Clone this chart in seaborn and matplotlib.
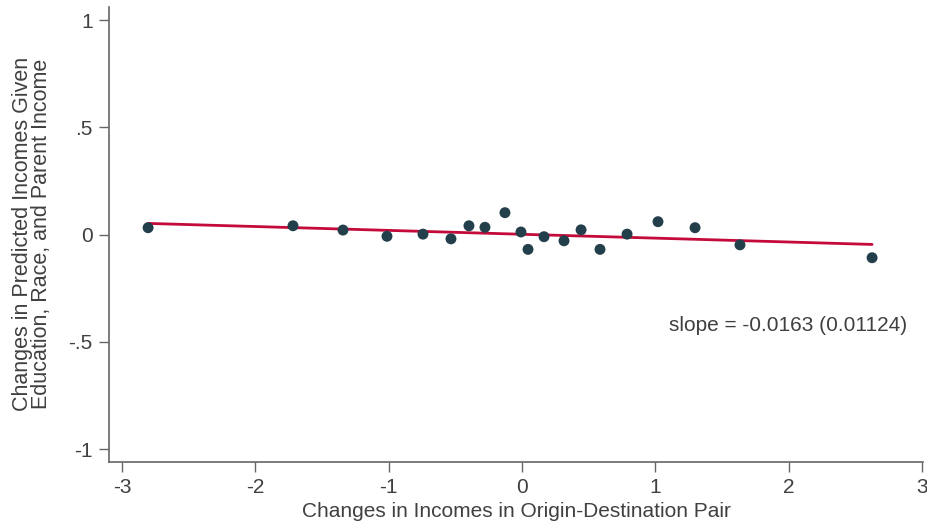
import matplotlib
matplotlib.use("Agg")
import matplotlib.pyplot as plt
import seaborn as sns
import pandas as pd

# Binned scatter points
income_change = [-2.805, -1.718, -1.343, -1.013, -0.743, -0.533, -0.398, -0.278,
                 -0.128, -0.008, 0.045, 0.165, 0.315, 0.443, 0.585, 0.788,
                 1.020, 1.298, 1.635, 2.626]
predicted_change = [0.032, 0.041, 0.021, -0.008, 0.002, -0.020, 0.041, 0.034,
                    0.102, 0.012, -0.069, -0.010, -0.029, 0.022, -0.069, 0.002,
                    0.060, 0.032, -0.048, -0.108]

# Fitted line endpoints
fit_x = [-2.805, 2.626]
fit_y = [0.052, -0.046]

slope_text = "slope = -0.0163 (0.01124)"
x_ticks = [-3, -2, -1, 0, 1, 2, 3]
x_tick_labels = ["-3", "-2", "-1", "0", "1", "2", "3"]
y_ticks = [-1, -0.5, 0, 0.5, 1]
y_tick_labels = ["-1", "-.5", "0", ".5", "1"]

sns.set_style("white")
plt.rcParams["font.family"] = ["Liberation Sans", "DejaVu Sans"]

fig = plt.figure(figsize=(9.27, 5.29), dpi=100)
ax = fig.add_axes([109.3 / 927, (529 - 461.7) / 529, (923 - 109.3) / 927, (461.7 - 7) / 529])

df = pd.DataFrame({"x": income_change, "y": predicted_change})
fit_df = pd.DataFrame({"x": fit_x, "y": fit_y})

sns.lineplot(data=fit_df, x="x", y="y", ax=ax, color="#c30a3a", linewidth=2, zorder=2)
sns.scatterplot(data=df, x="x", y="y", ax=ax, color="#233f4b", s=62, edgecolor="none", zorder=3)

ax.set_xlim(-3.096, 3.008)
ax.set_ylim(-1.059, 1.061)
ax.set_xticks(x_ticks)
ax.set_xticklabels(x_tick_labels)
ax.set_yticks(y_ticks)
ax.set_yticklabels(y_tick_labels)

for side in ["top", "right"]:
    ax.spines[side].set_visible(False)
for side in ["left", "bottom"]:
    ax.spines[side].set_color("#666666")
    ax.spines[side].set_linewidth(1.2)
ax.tick_params(axis="both", which="major", direction="out", length=7, width=1,
               color="#666666", labelcolor="#404040", labelsize=15, pad=5, left=True, bottom=True)

ax.set_xlabel("Changes in Incomes in Origin-Destination Pair", fontsize=15, color="#404040", labelpad=3)
ax.set_ylabel("Changes in Predicted Incomes Given\nEducation, Race, and Parent Income",
              fontsize=15.5, color="#404040", labelpad=12, linespacing=0.85)

ax.text(1.996, -0.422, slope_text, ha="center", va="center", fontsize=15, color="#404040")
ax.grid(False)

fig.savefig("out.png", dpi=100, facecolor="white")
